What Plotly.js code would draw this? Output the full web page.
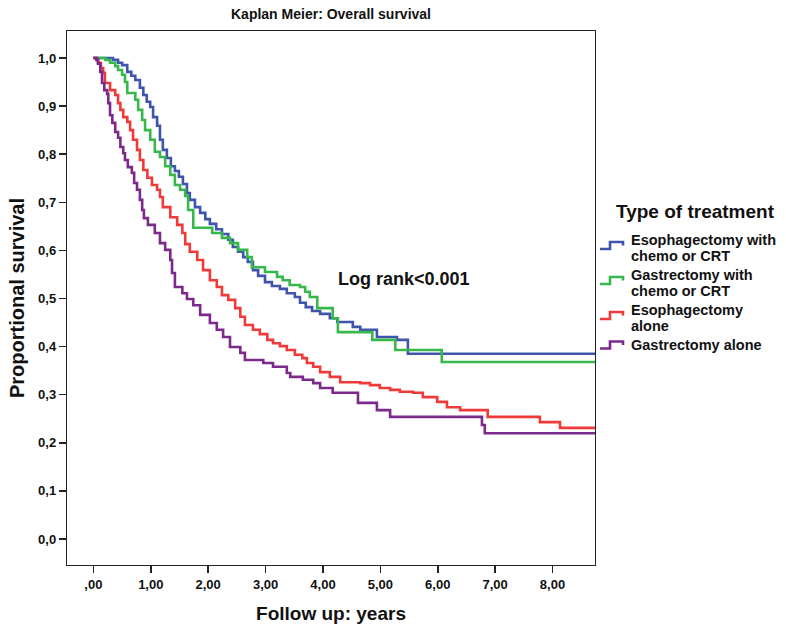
<!DOCTYPE html>
<html>
<head>
<meta charset="utf-8">
<script src="https://cdn.plot.ly/plotly-3.0.1.min.js"></script>
<style>
  html, body { margin: 0; padding: 0; background: #fff; }
  #chart { width: 786px; height: 627px; }
</style>
</head>
<body>
<div id="chart"></div>
<script>
// Kaplan-Meier step estimates: time in years, proportion surviving
const esoChemoTime = [0, 0.29, 0.34, 0.43, 0.50, 0.59, 0.66, 0.73, 0.81, 0.87, 0.93, 0.99, 1.04, 1.11, 1.16, 1.21, 1.28, 1.35, 1.42, 1.49, 1.56, 1.63, 1.68, 1.77, 1.86, 1.95, 2.03, 2.14, 2.24, 2.35, 2.43, 2.52, 2.61, 2.69, 2.78, 2.87, 2.99, 3.11, 3.25, 3.37, 3.51, 3.60, 3.70, 3.81, 3.95, 4.12, 4.25, 4.52, 4.65, 4.94, 5.29, 5.48, 8.8];
const esoChemoSurv = [1.0, 1.0, 0.996, 0.99, 0.985, 0.971, 0.963, 0.954, 0.938, 0.923, 0.909, 0.898, 0.877, 0.859, 0.830, 0.809, 0.792, 0.775, 0.765, 0.753, 0.738, 0.719, 0.705, 0.690, 0.678, 0.665, 0.655, 0.644, 0.634, 0.622, 0.607, 0.597, 0.586, 0.576, 0.559, 0.547, 0.534, 0.526, 0.520, 0.511, 0.503, 0.491, 0.482, 0.474, 0.468, 0.459, 0.451, 0.441, 0.435, 0.420, 0.414, 0.385, 0.385];

const gasChemoTime = [0, 0.17, 0.21, 0.29, 0.38, 0.43, 0.50, 0.55, 0.59, 0.73, 0.78, 0.85, 0.90, 0.99, 1.07, 1.16, 1.25, 1.34, 1.42, 1.51, 1.60, 1.65, 1.74, 2.07, 2.24, 2.38, 2.52, 2.68, 2.76, 2.99, 3.20, 3.30, 3.42, 3.60, 3.69, 3.77, 3.90, 4.17, 4.26, 4.86, 5.26, 6.07, 8.8];
const gasChemoSurv = [1.0, 1.0, 0.996, 0.99, 0.983, 0.975, 0.965, 0.950, 0.927, 0.913, 0.892, 0.871, 0.850, 0.830, 0.805, 0.794, 0.775, 0.757, 0.736, 0.726, 0.713, 0.684, 0.647, 0.636, 0.626, 0.615, 0.601, 0.586, 0.565, 0.555, 0.545, 0.538, 0.528, 0.524, 0.514, 0.503, 0.480, 0.459, 0.430, 0.414, 0.393, 0.368, 0.368];

const esoAloneTime = [0, 0.03, 0.05, 0.08, 0.13, 0.17, 0.20, 0.29, 0.38, 0.43, 0.47, 0.52, 0.59, 0.64, 0.69, 0.76, 0.81, 0.87, 0.94, 1.02, 1.11, 1.16, 1.21, 1.34, 1.46, 1.55, 1.60, 1.68, 1.81, 1.91, 2.03, 2.15, 2.24, 2.35, 2.47, 2.56, 2.64, 2.78, 2.90, 3.03, 3.13, 3.25, 3.37, 3.51, 3.64, 3.72, 3.83, 3.95, 4.12, 4.30, 4.65, 4.82, 4.99, 5.17, 5.34, 5.57, 5.74, 5.99, 6.16, 6.39, 6.87, 7.78, 8.13, 8.8];
const esoAloneSurv = [1.0, 1.0, 0.996, 0.99, 0.979, 0.969, 0.948, 0.933, 0.923, 0.906, 0.892, 0.877, 0.867, 0.850, 0.830, 0.809, 0.788, 0.767, 0.751, 0.736, 0.726, 0.711, 0.690, 0.669, 0.653, 0.636, 0.613, 0.597, 0.580, 0.559, 0.538, 0.524, 0.507, 0.497, 0.480, 0.462, 0.445, 0.435, 0.426, 0.414, 0.407, 0.401, 0.393, 0.383, 0.376, 0.366, 0.358, 0.347, 0.337, 0.326, 0.324, 0.320, 0.314, 0.310, 0.306, 0.304, 0.295, 0.285, 0.274, 0.268, 0.254, 0.243, 0.231, 0.231];

const gasAloneTime = [0, 0.06, 0.08, 0.12, 0.15, 0.19, 0.24, 0.26, 0.29, 0.33, 0.38, 0.43, 0.47, 0.52, 0.55, 0.60, 0.67, 0.71, 0.76, 0.81, 0.85, 0.88, 0.95, 1.07, 1.16, 1.25, 1.34, 1.37, 1.42, 1.55, 1.63, 1.74, 1.86, 2.03, 2.15, 2.26, 2.38, 2.56, 2.64, 2.96, 3.13, 3.37, 3.43, 3.65, 3.83, 3.95, 4.17, 4.61, 4.94, 5.17, 6.77, 6.82, 8.8];
const gasAloneSurv = [1.0, 0.996, 0.988, 0.971, 0.948, 0.933, 0.925, 0.906, 0.881, 0.865, 0.846, 0.834, 0.815, 0.802, 0.788, 0.773, 0.761, 0.740, 0.726, 0.705, 0.684, 0.667, 0.653, 0.636, 0.615, 0.601, 0.580, 0.553, 0.524, 0.511, 0.499, 0.486, 0.466, 0.449, 0.435, 0.420, 0.399, 0.387, 0.372, 0.366, 0.358, 0.345, 0.337, 0.331, 0.324, 0.314, 0.304, 0.283, 0.268, 0.254, 0.237, 0.220, 0.220];

const groupNames = [
  'Esophagectomy with<br>chemo or CRT',
  'Gastrectomy with<br>chemo or CRT',
  'Esophagectomy<br>alone',
  'Gastrectomy alone'
];
const groupColors = ['#3f55ad', '#37b84a', '#f03a3a', '#7b2a8c'];
const legendTitle = 'Type of treatment';
const testLabel = 'Log rank<0.001';

const xTickVals = [0, 1, 2, 3, 4, 5, 6, 7, 8];
const xTickText = [',00', '1,00', '2,00', '3,00', '4,00', '5,00', '6,00', '7,00', '8,00'];
const yTickVals = [0, 0.1, 0.2, 0.3, 0.4, 0.5, 0.6, 0.7, 0.8, 0.9, 1.0];
const yTickText = ['0,0', '0,1', '0,2', '0,3', '0,4', '0,5', '0,6', '0,7', '0,8', '0,9', '1,0'];

const FONT = 'Liberation Sans, Arial, Helvetica, sans-serif';
const W = 786, H = 627;
const M = { l: 67, r: 191, t: 31, b: 62 };
const plotW = W - M.l - M.r, plotH = H - M.t - M.b;
// pixel position on the page -> paper fraction (for the side key)
const px = x => (x - M.l) / plotW;
const py = y => (H - M.b - y) / plotH;

const seriesX = [esoChemoTime, gasChemoTime, esoAloneTime, gasAloneTime];
const seriesY = [esoChemoSurv, gasChemoSurv, esoAloneSurv, gasAloneSurv];

const traces = seriesX.map((xs, i) => ({
  type: 'scatter',
  mode: 'lines',
  x: xs,
  y: seriesY[i],
  name: groupNames[i],
  line: { shape: 'hv', color: groupColors[i], width: 2.6 },
  showlegend: false
}));

// Side key: heading, step glyphs and wrapped labels
const keyAnnotations = [{
  text: legendTitle,
  xref: 'paper', yref: 'paper', x: px(614), y: py(211),
  xanchor: 'left', yanchor: 'middle', showarrow: false,
  font: { family: FONT, size: 19, weight: 'bold', color: '#111' }
}];
const keyShapes = [];
const entryTop = [240, 275, 310, 345];
const keyLineGap = 16.4;
groupNames.forEach((name, i) => {
  const lines = name.split('<br>');
  lines.forEach((ln, k) => {
    keyAnnotations.push({
      text: ln,
      xref: 'paper', yref: 'paper', x: px(629), y: py(entryTop[i] + k * keyLineGap),
      xanchor: 'left', yanchor: 'middle', showarrow: false,
      font: { family: FONT, size: 14.5, weight: 'bold', color: '#111' }
    });
  });
  const mid = lines.length > 1 ? entryTop[i] + 5.5 : entryTop[i];
  const lo = mid + 3.5, hi = mid - 3.5;
  keyShapes.push({
    type: 'path', xref: 'paper', yref: 'paper',
    path: `M ${px(600)} ${py(lo)} L ${px(610)} ${py(lo)} L ${px(610)} ${py(hi)} ` +
          `L ${px(623)} ${py(hi)} L ${px(623)} ${py(mid)}`,
    line: { color: groupColors[i], width: 2.6 }
  });
});

const layout = {
  width: W,
  height: H,
  paper_bgcolor: '#ffffff',
  plot_bgcolor: '#ffffff',
  margin: M,
  font: { family: FONT, color: '#111' },
  showlegend: false,
  title: {
    text: 'Kaplan Meier: Overall survival',
    font: { family: FONT, size: 14, weight: 'bold', color: '#111' },
    x: 0.5, xref: 'paper', xanchor: 'center',
    y: 1 - 14 / H, yref: 'container', yanchor: 'middle'
  },
  xaxis: {
    range: [-0.46, 8.74],
    tickvals: xTickVals,
    ticktext: xTickText,
    tickfont: { family: FONT, size: 13, weight: 'bold', color: '#111' },
    ticks: 'outside', ticklen: 7, tickwidth: 1.5, tickcolor: '#222',
    showline: true, mirror: true, linecolor: '#222', linewidth: 1.2,
    showgrid: false, zeroline: false,
    title: {
      text: 'Follow up: years',
      font: { family: FONT, size: 19, weight: 'bold', color: '#111' },
      standoff: 16
    }
  },
  yaxis: {
    range: [-0.054, 1.056],
    tickvals: yTickVals,
    ticktext: yTickText,
    tickfont: { family: FONT, size: 13, weight: 'bold', color: '#111' },
    ticks: 'outside', ticklen: 7, tickwidth: 1.5, tickcolor: '#222',
    showline: true, mirror: true, linecolor: '#222', linewidth: 1.2,
    showgrid: false, zeroline: false,
    title: {
      text: 'Proportional survival',
      font: { family: FONT, size: 20, weight: 'bold', color: '#111' },
      standoff: 8
    }
  },
  annotations: [{
    text: testLabel,
    x: 5.41, y: 0.54, xref: 'x', yref: 'y',
    showarrow: false,
    font: { family: FONT, size: 18, weight: 'bold', color: '#111' }
  }].concat(keyAnnotations),
  shapes: keyShapes
};

Plotly.newPlot('chart', traces, layout, { displayModeBar: false, staticPlot: true });
</script>
</body>
</html>
